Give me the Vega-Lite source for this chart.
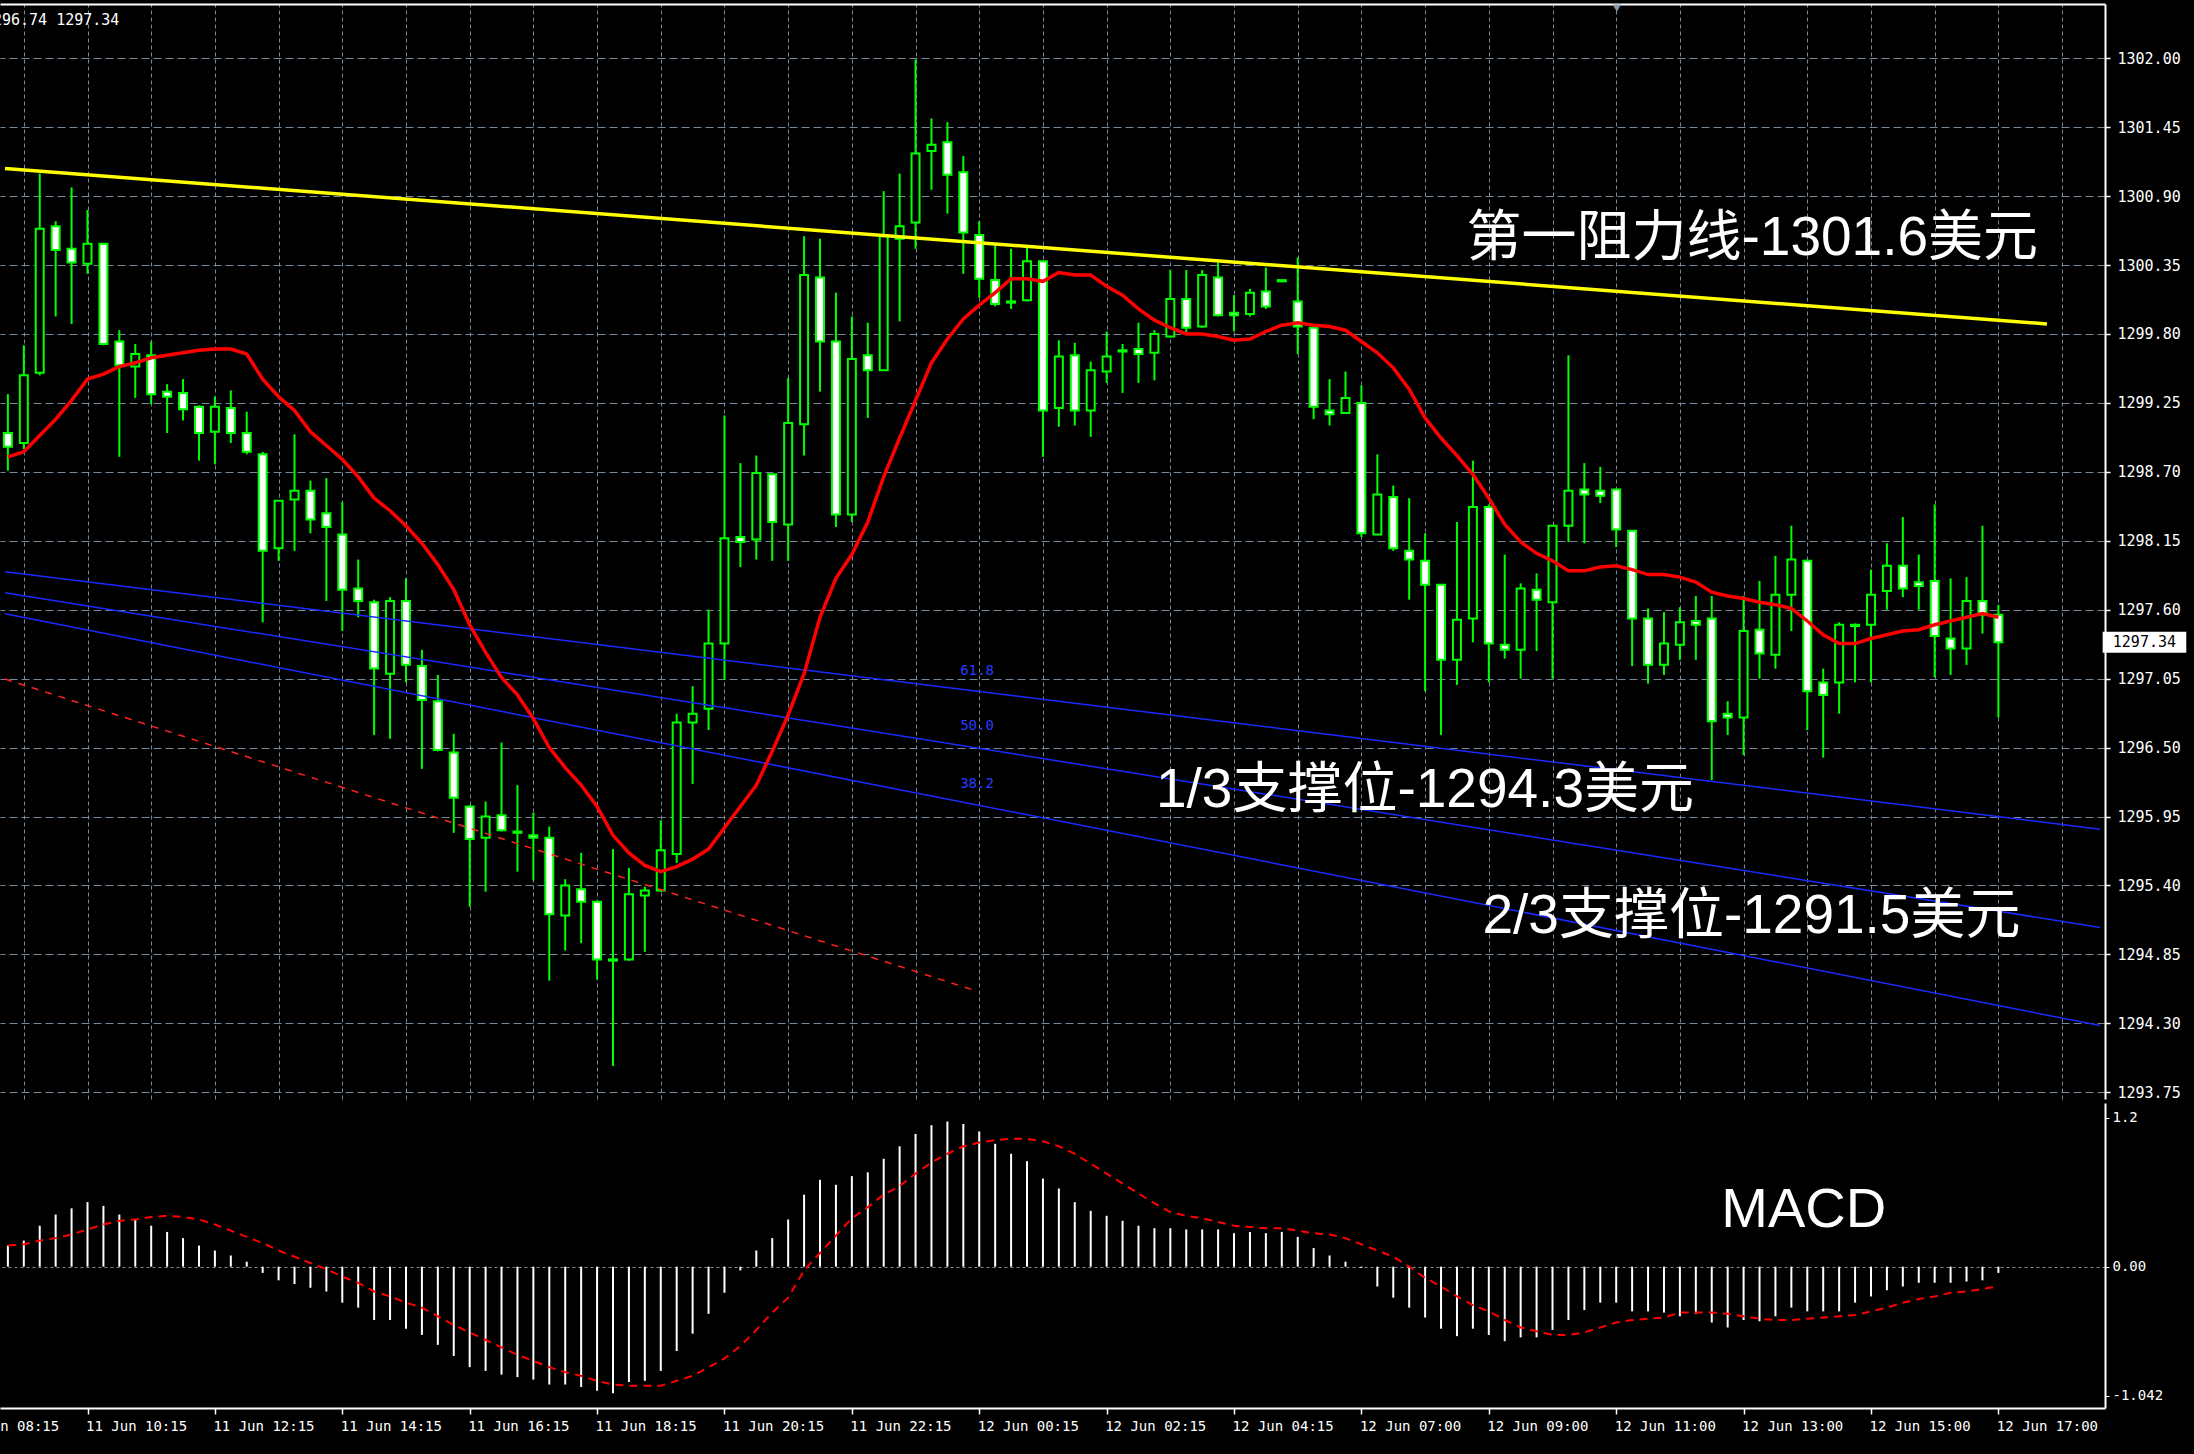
{
  "$schema": "https://vega.github.io/schema/vega-lite/v6.json",
  "width": 2105,
  "height": 1404,
  "autosize": {"type": "none"},
  "padding": {"left": 0, "top": 4, "right": 89, "bottom": 46},
  "background": "#000000",
  "config": {
    "view": {"stroke": null},
    "font": "Liberation Sans",
    "axis": {"domainColor": "#ffffff", "tickColor": "#ffffff", "labelColor": "#ffffff", "gridColor": "#778899"}
  },
  "datasets": {
    "candles": [
      {"k":-1,"o":1299.01,"h":1299.32,"l":1298.71,"c":1298.90,"ma":1298.82},
      {"k":0,"o":1298.93,"h":1299.71,"l":1298.88,"c":1299.47,"ma":1298.86},
      {"k":1,"o":1299.49,"h":1301.08,"l":1299.47,"c":1300.64,"ma":1298.99},
      {"k":2,"o":1300.66,"h":1300.70,"l":1299.94,"c":1300.47,"ma":1299.12},
      {"k":3,"o":1300.48,"h":1300.97,"l":1299.88,"c":1300.37,"ma":1299.27},
      {"k":4,"o":1300.36,"h":1300.79,"l":1300.28,"c":1300.52,"ma":1299.44},
      {"k":5,"o":1300.52,"h":1300.52,"l":1299.71,"c":1299.72,"ma":1299.48},
      {"k":6,"o":1299.74,"h":1299.83,"l":1298.82,"c":1299.55,"ma":1299.54},
      {"k":7,"o":1299.54,"h":1299.72,"l":1299.29,"c":1299.64,"ma":1299.57},
      {"k":8,"o":1299.63,"h":1299.74,"l":1299.24,"c":1299.32,"ma":1299.61},
      {"k":9,"o":1299.34,"h":1299.40,"l":1299.01,"c":1299.30,"ma":1299.63},
      {"k":10,"o":1299.33,"h":1299.44,"l":1299.11,"c":1299.20,"ma":1299.65},
      {"k":11,"o":1299.22,"h":1299.23,"l":1298.79,"c":1299.01,"ma":1299.67},
      {"k":12,"o":1299.02,"h":1299.30,"l":1298.76,"c":1299.22,"ma":1299.68},
      {"k":13,"o":1299.21,"h":1299.35,"l":1298.93,"c":1299.01,"ma":1299.68},
      {"k":14,"o":1299.01,"h":1299.18,"l":1298.84,"c":1298.86,"ma":1299.64},
      {"k":15,"o":1298.84,"h":1298.86,"l":1297.50,"c":1298.07,"ma":1299.44},
      {"k":16,"o":1298.09,"h":1298.47,"l":1297.99,"c":1298.47,"ma":1299.30},
      {"k":17,"o":1298.48,"h":1299.00,"l":1298.07,"c":1298.55,"ma":1299.19},
      {"k":18,"o":1298.55,"h":1298.63,"l":1298.21,"c":1298.32,"ma":1299.02},
      {"k":19,"o":1298.37,"h":1298.65,"l":1297.67,"c":1298.26,"ma":1298.91},
      {"k":20,"o":1298.20,"h":1298.46,"l":1297.43,"c":1297.76,"ma":1298.80},
      {"k":21,"o":1297.77,"h":1298.00,"l":1297.54,"c":1297.67,"ma":1298.66},
      {"k":22,"o":1297.66,"h":1297.68,"l":1296.60,"c":1297.13,"ma":1298.49},
      {"k":23,"o":1297.09,"h":1297.70,"l":1296.57,"c":1297.67,"ma":1298.39},
      {"k":24,"o":1297.67,"h":1297.85,"l":1297.02,"c":1297.16,"ma":1298.27},
      {"k":25,"o":1297.15,"h":1297.28,"l":1296.33,"c":1296.88,"ma":1298.13},
      {"k":26,"o":1296.87,"h":1297.08,"l":1296.47,"c":1296.48,"ma":1297.96},
      {"k":27,"o":1296.46,"h":1296.61,"l":1295.82,"c":1296.10,"ma":1297.76},
      {"k":28,"o":1296.03,"h":1296.04,"l":1295.23,"c":1295.77,"ma":1297.48},
      {"k":29,"o":1295.78,"h":1296.07,"l":1295.35,"c":1295.95,"ma":1297.26},
      {"k":30,"o":1295.96,"h":1296.54,"l":1295.83,"c":1295.84,"ma":1297.06},
      {"k":31,"o":1295.83,"h":1296.20,"l":1295.51,"c":1295.82,"ma":1296.92},
      {"k":32,"o":1295.80,"h":1295.98,"l":1295.44,"c":1295.78,"ma":1296.73},
      {"k":33,"o":1295.78,"h":1295.87,"l":1294.64,"c":1295.17,"ma":1296.50},
      {"k":34,"o":1295.16,"h":1295.45,"l":1294.88,"c":1295.40,"ma":1296.34},
      {"k":35,"o":1295.37,"h":1295.66,"l":1294.94,"c":1295.27,"ma":1296.20},
      {"k":36,"o":1295.27,"h":1295.28,"l":1294.65,"c":1294.81,"ma":1296.03},
      {"k":37,"o":1294.81,"h":1295.69,"l":1293.96,"c":1294.80,"ma":1295.80},
      {"k":38,"o":1294.81,"h":1295.54,"l":1294.80,"c":1295.33,"ma":1295.66},
      {"k":39,"o":1295.32,"h":1295.39,"l":1294.87,"c":1295.36,"ma":1295.56},
      {"k":40,"o":1295.36,"h":1295.92,"l":1295.35,"c":1295.68,"ma":1295.51},
      {"k":41,"o":1295.65,"h":1296.77,"l":1295.58,"c":1296.70,"ma":1295.55},
      {"k":42,"o":1296.70,"h":1296.99,"l":1296.21,"c":1296.77,"ma":1295.61},
      {"k":43,"o":1296.81,"h":1297.60,"l":1296.64,"c":1297.33,"ma":1295.69},
      {"k":44,"o":1297.33,"h":1299.15,"l":1297.04,"c":1298.17,"ma":1295.86},
      {"k":45,"o":1298.18,"h":1298.77,"l":1297.94,"c":1298.14,"ma":1296.03},
      {"k":46,"o":1298.16,"h":1298.83,"l":1298.00,"c":1298.69,"ma":1296.20},
      {"k":47,"o":1298.68,"h":1298.68,"l":1297.99,"c":1298.30,"ma":1296.47},
      {"k":48,"o":1298.28,"h":1299.45,"l":1297.99,"c":1299.09,"ma":1296.76},
      {"k":49,"o":1299.08,"h":1300.58,"l":1298.83,"c":1300.27,"ma":1297.09},
      {"k":50,"o":1300.25,"h":1300.56,"l":1299.34,"c":1299.74,"ma":1297.54},
      {"k":51,"o":1299.74,"h":1300.13,"l":1298.26,"c":1298.36,"ma":1297.85},
      {"k":52,"o":1298.36,"h":1299.94,"l":1298.30,"c":1299.60,"ma":1298.04},
      {"k":53,"o":1299.63,"h":1299.89,"l":1299.13,"c":1299.51,"ma":1298.30},
      {"k":54,"o":1299.51,"h":1300.94,"l":1299.51,"c":1300.58,"ma":1298.66},
      {"k":55,"o":1300.56,"h":1301.08,"l":1299.90,"c":1300.66,"ma":1298.97},
      {"k":56,"o":1300.69,"h":1301.99,"l":1300.48,"c":1301.24,"ma":1299.27},
      {"k":57,"o":1301.26,"h":1301.52,"l":1300.95,"c":1301.31,"ma":1299.57},
      {"k":58,"o":1301.33,"h":1301.49,"l":1300.76,"c":1301.07,"ma":1299.76},
      {"k":59,"o":1301.09,"h":1301.22,"l":1300.28,"c":1300.61,"ma":1299.92},
      {"k":60,"o":1300.59,"h":1300.70,"l":1300.09,"c":1300.24,"ma":1300.03},
      {"k":61,"o":1300.23,"h":1300.51,"l":1300.02,"c":1300.04,"ma":1300.13},
      {"k":62,"o":1300.06,"h":1300.48,"l":1300.00,"c":1300.05,"ma":1300.24},
      {"k":63,"o":1300.07,"h":1300.51,"l":1300.06,"c":1300.38,"ma":1300.24},
      {"k":64,"o":1300.38,"h":1300.38,"l":1298.82,"c":1299.19,"ma":1300.22},
      {"k":65,"o":1299.21,"h":1299.75,"l":1299.06,"c":1299.62,"ma":1300.29},
      {"k":66,"o":1299.63,"h":1299.73,"l":1299.07,"c":1299.19,"ma":1300.27},
      {"k":67,"o":1299.19,"h":1299.58,"l":1298.98,"c":1299.51,"ma":1300.27},
      {"k":68,"o":1299.50,"h":1299.82,"l":1299.41,"c":1299.62,"ma":1300.18},
      {"k":69,"o":1299.67,"h":1299.72,"l":1299.33,"c":1299.66,"ma":1300.11},
      {"k":70,"o":1299.68,"h":1299.89,"l":1299.41,"c":1299.64,"ma":1300.00},
      {"k":71,"o":1299.65,"h":1299.83,"l":1299.43,"c":1299.80,"ma":1299.91},
      {"k":72,"o":1299.78,"h":1300.31,"l":1299.77,"c":1300.08,"ma":1299.85},
      {"k":73,"o":1300.08,"h":1300.31,"l":1299.81,"c":1299.85,"ma":1299.80},
      {"k":74,"o":1299.86,"h":1300.31,"l":1299.85,"c":1300.27,"ma":1299.80},
      {"k":75,"o":1300.25,"h":1300.37,"l":1299.94,"c":1299.95,"ma":1299.78},
      {"k":76,"o":1299.97,"h":1300.11,"l":1299.82,"c":1299.95,"ma":1299.75},
      {"k":77,"o":1299.96,"h":1300.16,"l":1299.94,"c":1300.13,"ma":1299.76},
      {"k":78,"o":1300.14,"h":1300.33,"l":1300.00,"c":1300.02,"ma":1299.82},
      {"k":79,"o":1300.23,"h":1300.23,"l":1300.22,"c":1300.22,"ma":1299.87},
      {"k":80,"o":1300.06,"h":1300.41,"l":1299.64,"c":1299.86,"ma":1299.89},
      {"k":81,"o":1299.85,"h":1299.86,"l":1299.12,"c":1299.22,"ma":1299.87},
      {"k":82,"o":1299.19,"h":1299.44,"l":1299.07,"c":1299.16,"ma":1299.86},
      {"k":83,"o":1299.17,"h":1299.50,"l":1299.17,"c":1299.29,"ma":1299.83},
      {"k":84,"o":1299.25,"h":1299.39,"l":1298.18,"c":1298.21,"ma":1299.74},
      {"k":85,"o":1298.20,"h":1298.84,"l":1298.20,"c":1298.52,"ma":1299.65},
      {"k":86,"o":1298.50,"h":1298.59,"l":1298.07,"c":1298.09,"ma":1299.53},
      {"k":87,"o":1298.07,"h":1298.49,"l":1297.68,"c":1298.00,"ma":1299.36},
      {"k":88,"o":1297.99,"h":1298.21,"l":1296.95,"c":1297.80,"ma":1299.13},
      {"k":89,"o":1297.80,"h":1297.80,"l":1296.60,"c":1297.20,"ma":1298.97},
      {"k":90,"o":1297.20,"h":1298.30,"l":1297.00,"c":1297.52,"ma":1298.83},
      {"k":91,"o":1297.53,"h":1298.79,"l":1297.34,"c":1298.42,"ma":1298.68},
      {"k":92,"o":1298.42,"h":1298.44,"l":1297.02,"c":1297.33,"ma":1298.49},
      {"k":93,"o":1297.32,"h":1298.04,"l":1297.21,"c":1297.28,"ma":1298.28},
      {"k":94,"o":1297.28,"h":1297.81,"l":1297.05,"c":1297.77,"ma":1298.14},
      {"k":95,"o":1297.76,"h":1297.89,"l":1297.27,"c":1297.68,"ma":1298.05},
      {"k":96,"o":1297.66,"h":1298.27,"l":1297.05,"c":1298.27,"ma":1297.99},
      {"k":97,"o":1298.27,"h":1299.63,"l":1298.14,"c":1298.55,"ma":1297.91},
      {"k":98,"o":1298.56,"h":1298.77,"l":1298.13,"c":1298.52,"ma":1297.91},
      {"k":99,"o":1298.55,"h":1298.74,"l":1298.45,"c":1298.51,"ma":1297.94},
      {"k":100,"o":1298.56,"h":1298.56,"l":1298.10,"c":1298.24,"ma":1297.95},
      {"k":101,"o":1298.23,"h":1298.23,"l":1297.15,"c":1297.53,"ma":1297.92},
      {"k":102,"o":1297.53,"h":1297.61,"l":1297.01,"c":1297.16,"ma":1297.88},
      {"k":103,"o":1297.16,"h":1297.58,"l":1297.08,"c":1297.33,"ma":1297.88},
      {"k":104,"o":1297.32,"h":1297.62,"l":1297.20,"c":1297.50,"ma":1297.86},
      {"k":105,"o":1297.51,"h":1297.71,"l":1297.20,"c":1297.48,"ma":1297.82},
      {"k":106,"o":1297.53,"h":1297.71,"l":1296.24,"c":1296.71,"ma":1297.74},
      {"k":107,"o":1296.77,"h":1296.87,"l":1296.60,"c":1296.74,"ma":1297.71},
      {"k":108,"o":1296.74,"h":1297.71,"l":1296.44,"c":1297.43,"ma":1297.69},
      {"k":109,"o":1297.44,"h":1297.83,"l":1297.05,"c":1297.25,"ma":1297.66},
      {"k":110,"o":1297.24,"h":1298.03,"l":1297.13,"c":1297.72,"ma":1297.64},
      {"k":111,"o":1297.72,"h":1298.27,"l":1297.43,"c":1298.00,"ma":1297.61},
      {"k":112,"o":1297.99,"h":1298.00,"l":1296.64,"c":1296.95,"ma":1297.51},
      {"k":113,"o":1297.02,"h":1297.13,"l":1296.42,"c":1296.92,"ma":1297.40},
      {"k":114,"o":1297.02,"h":1297.50,"l":1296.77,"c":1297.48,"ma":1297.33},
      {"k":115,"o":1297.48,"h":1297.49,"l":1297.02,"c":1297.47,"ma":1297.33},
      {"k":116,"o":1297.48,"h":1297.92,"l":1297.02,"c":1297.72,"ma":1297.37},
      {"k":117,"o":1297.75,"h":1298.13,"l":1297.60,"c":1297.95,"ma":1297.40},
      {"k":118,"o":1297.95,"h":1298.34,"l":1297.70,"c":1297.77,"ma":1297.43},
      {"k":119,"o":1297.82,"h":1298.04,"l":1297.60,"c":1297.79,"ma":1297.44},
      {"k":120,"o":1297.83,"h":1298.44,"l":1297.06,"c":1297.39,"ma":1297.48},
      {"k":121,"o":1297.37,"h":1297.85,"l":1297.08,"c":1297.29,"ma":1297.51},
      {"k":122,"o":1297.29,"h":1297.86,"l":1297.16,"c":1297.67,"ma":1297.54},
      {"k":123,"o":1297.67,"h":1298.27,"l":1297.41,"c":1297.56,"ma":1297.57},
      {"k":124,"o":1297.56,"h":1297.64,"l":1296.74,"c":1297.34,"ma":1297.54}
    ],
    "macd": [
      {"k":-1,"hist":0.17,"sig":0.17},{"k":0,"hist":0.21,"sig":0.18},{"k":1,"hist":0.33,"sig":0.21},{"k":2,"hist":0.42,"sig":0.23},
      {"k":3,"hist":0.47,"sig":0.26},{"k":4,"hist":0.52,"sig":0.30},{"k":5,"hist":0.49,"sig":0.34},{"k":6,"hist":0.42,"sig":0.37},
      {"k":7,"hist":0.38,"sig":0.38},{"k":8,"hist":0.33,"sig":0.40},{"k":9,"hist":0.28,"sig":0.41},{"k":10,"hist":0.23,"sig":0.40},
      {"k":11,"hist":0.17,"sig":0.38},{"k":12,"hist":0.13,"sig":0.34},{"k":13,"hist":0.09,"sig":0.29},{"k":14,"hist":0.04,"sig":0.24},
      {"k":15,"hist":-0.05,"sig":0.19},{"k":16,"hist":-0.11,"sig":0.13},{"k":17,"hist":-0.14,"sig":0.08},{"k":18,"hist":-0.17,"sig":0.03},
      {"k":19,"hist":-0.20,"sig":-0.02},{"k":20,"hist":-0.29,"sig":-0.08},{"k":21,"hist":-0.33,"sig":-0.13},{"k":22,"hist":-0.43,"sig":-0.20},
      {"k":23,"hist":-0.43,"sig":-0.24},{"k":24,"hist":-0.50,"sig":-0.29},{"k":25,"hist":-0.55,"sig":-0.33},{"k":26,"hist":-0.63,"sig":-0.40},
      {"k":27,"hist":-0.72,"sig":-0.47},{"k":28,"hist":-0.81,"sig":-0.53},{"k":29,"hist":-0.84,"sig":-0.59},{"k":30,"hist":-0.87,"sig":-0.65},
      {"k":31,"hist":-0.89,"sig":-0.71},{"k":32,"hist":-0.91,"sig":-0.76},{"k":33,"hist":-0.95,"sig":-0.81},{"k":34,"hist":-0.95,"sig":-0.85},
      {"k":35,"hist":-0.97,"sig":-0.88},{"k":36,"hist":-1.00,"sig":-0.92},{"k":37,"hist":-1.02,"sig":-0.95},{"k":38,"hist":-0.93,"sig":-0.96},
      {"k":39,"hist":-0.92,"sig":-0.96},{"k":40,"hist":-0.84,"sig":-0.96},{"k":41,"hist":-0.68,"sig":-0.92},{"k":42,"hist":-0.54,"sig":-0.88},
      {"k":43,"hist":-0.38,"sig":-0.81},{"k":44,"hist":-0.21,"sig":-0.74},{"k":45,"hist":-0.03,"sig":-0.64},{"k":46,"hist":0.13,"sig":-0.51},
      {"k":47,"hist":0.23,"sig":-0.37},{"k":48,"hist":0.38,"sig":-0.25},{"k":49,"hist":0.58,"sig":-0.03},{"k":50,"hist":0.70,"sig":0.11},
      {"k":51,"hist":0.66,"sig":0.25},{"k":52,"hist":0.73,"sig":0.39},{"k":53,"hist":0.76,"sig":0.48},{"k":54,"hist":0.87,"sig":0.58},
      {"k":55,"hist":0.97,"sig":0.65},{"k":56,"hist":1.07,"sig":0.75},{"k":57,"hist":1.14,"sig":0.84},{"k":58,"hist":1.17,"sig":0.91},
      {"k":59,"hist":1.15,"sig":0.97},{"k":60,"hist":1.09,"sig":1.00},{"k":61,"hist":0.99,"sig":1.02},{"k":62,"hist":0.91,"sig":1.03},
      {"k":63,"hist":0.85,"sig":1.03},{"k":64,"hist":0.71,"sig":1.01},{"k":65,"hist":0.63,"sig":0.97},{"k":66,"hist":0.52,"sig":0.91},
      {"k":67,"hist":0.45,"sig":0.83},{"k":68,"hist":0.41,"sig":0.75},{"k":69,"hist":0.37,"sig":0.67},{"k":70,"hist":0.33,"sig":0.59},
      {"k":71,"hist":0.31,"sig":0.51},{"k":72,"hist":0.31,"sig":0.44},{"k":73,"hist":0.30,"sig":0.41},{"k":74,"hist":0.30,"sig":0.39},
      {"k":75,"hist":0.30,"sig":0.36},{"k":76,"hist":0.27,"sig":0.33},{"k":77,"hist":0.28,"sig":0.32},{"k":78,"hist":0.27,"sig":0.31},
      {"k":79,"hist":0.28,"sig":0.31},{"k":80,"hist":0.24,"sig":0.29},{"k":81,"hist":0.15,"sig":0.27},{"k":82,"hist":0.09,"sig":0.26},
      {"k":83,"hist":0.04,"sig":0.23},{"k":84,"hist":-0.01,"sig":0.18},{"k":85,"hist":-0.16,"sig":0.13},{"k":86,"hist":-0.25,"sig":0.08},
      {"k":87,"hist":-0.33,"sig":0.00},{"k":88,"hist":-0.41,"sig":-0.09},{"k":89,"hist":-0.50,"sig":-0.16},{"k":90,"hist":-0.56,"sig":-0.24},
      {"k":91,"hist":-0.50,"sig":-0.31},{"k":92,"hist":-0.55,"sig":-0.36},{"k":93,"hist":-0.60,"sig":-0.43},{"k":94,"hist":-0.57,"sig":-0.49},
      {"k":95,"hist":-0.57,"sig":-0.52},{"k":96,"hist":-0.51,"sig":-0.55},{"k":97,"hist":-0.43,"sig":-0.55},{"k":98,"hist":-0.35,"sig":-0.53},
      {"k":99,"hist":-0.29,"sig":-0.49},{"k":100,"hist":-0.29,"sig":-0.45},{"k":101,"hist":-0.36,"sig":-0.43},{"k":102,"hist":-0.36,"sig":-0.42},
      {"k":103,"hist":-0.37,"sig":-0.41},{"k":104,"hist":-0.40,"sig":-0.37},{"k":105,"hist":-0.38,"sig":-0.37},{"k":106,"hist":-0.45,"sig":-0.37},
      {"k":107,"hist":-0.49,"sig":-0.38},{"k":108,"hist":-0.43,"sig":-0.40},{"k":109,"hist":-0.44,"sig":-0.42},{"k":110,"hist":-0.40,"sig":-0.43},
      {"k":111,"hist":-0.33,"sig":-0.43},{"k":112,"hist":-0.36,"sig":-0.42},{"k":113,"hist":-0.36,"sig":-0.41},{"k":114,"hist":-0.36,"sig":-0.40},
      {"k":115,"hist":-0.29,"sig":-0.39},{"k":116,"hist":-0.24,"sig":-0.36},{"k":117,"hist":-0.19,"sig":-0.33},{"k":118,"hist":-0.16,"sig":-0.29},
      {"k":119,"hist":-0.13,"sig":-0.26},{"k":120,"hist":-0.13,"sig":-0.24},{"k":121,"hist":-0.13,"sig":-0.21},{"k":122,"hist":-0.12,"sig":-0.20},
      {"k":123,"hist":-0.11,"sig":-0.18},{"k":124,"hist":-0.05,"sig":-0.16}
    ],
    "resistance": [{"k":-1.181,"p":1301.12},{"k":127.05,"p":1299.88}],
    "fib": [
      {"lvl":"61.8","k":-1.181,"p":1297.903},{"lvl":"61.8","k":130.382,"p":1295.849},
      {"lvl":"50.0","k":-1.181,"p":1297.735},{"lvl":"50.0","k":130.382,"p":1295.065},
      {"lvl":"38.2","k":-1.181,"p":1297.567},{"lvl":"38.2","k":130.382,"p":1294.282}
    ],
    "dash": [{"k":-1.181,"p":1297.047},{"k":59.86,"p":1294.556}],
    "fiblabels": [
      {"k":59.86,"p":1297.108,"t":"61.8"},
      {"k":59.86,"p":1296.672,"t":"50.0"},
      {"k":59.86,"p":1296.207,"t":"38.2"}
    ],
    "notes": [
      {"k":90.6,"p":1300.566,"t":"第一阻力线-1301.6美元"},
      {"k":71.1,"p":1296.165,"t":"1/3支撑位-1294.3美元"},
      {"k":91.6,"p":1295.157,"t":"2/3支撑位-1291.5美元"}
    ]
  },
  "layer": [
    {
      "layer": [
        {
          "data": {"name": "candles"},
          "mark": {"type": "rule", "color": "#00ff00", "strokeWidth": 2},
          "encoding": {
            "x": {"field": "k", "type": "quantitative",
              "scale": {"domain": [-1.181, 130.382], "nice": false, "zero": false},
              "axis": {"orient": "top", "values": [0,4,8,12,16,20,24,28,32,36,40,44,48,52,56,60,64,68,72,76,80,84,88,92,96,100,104,108,112,116,120,124,128],
                "grid": true, "gridColor": "#778899", "gridDash": [4,3], "gridWidth": 1,
                "labels": false, "ticks": false, "domain": true, "domainColor": "#ffffff", "domainWidth": 2, "title": null}},
            "y": {"field": "l", "type": "quantitative",
              "scale": {"domain": [1293.696, 1302.433], "range": [1095, 0], "nice": false, "zero": false},
              "axis": {"orient": "right", "values": [1302.00,1301.45,1300.90,1300.35,1299.80,1299.25,1298.70,1298.15,1297.60,1297.05,1296.50,1295.95,1295.40,1294.85,1294.30,1293.75],
                "format": ".2f", "grid": true, "gridColor": "#778899", "gridDash": [8,4], "gridWidth": 1,
                "domainColor": "#ffffff", "domainWidth": 2, "tickColor": "#ffffff", "tickSize": 5, "tickWidth": 1.5,
                "labelColor": "#ffffff", "labelFont": "DejaVu Sans Mono", "labelFontSize": 15, "labelPadding": 7, "title": null}},
            "y2": {"field": "h"}
          }
        },
        {
          "data": {"name": "candles"},
          "mark": {"type": "bar", "size": 8, "stroke": "#00ff00", "strokeWidth": 2},
          "encoding": {
            "x": {"field": "k", "type": "quantitative", "title": null},
            "y": {"field": "o", "type": "quantitative", "title": null},
            "y2": {"field": "c"},
            "fill": {"condition": {"test": "datum.c < datum.o", "value": "#ffffff"}, "value": "#000000"}
          }
        },
        {
          "mark": {"type": "rule", "color": "#a3abb5", "strokeWidth": 1},
          "encoding": {"y": {"datum": 1297.34, "type": "quantitative"}}
        },
        {
          "data": {"name": "fib"},
          "mark": {"type": "line", "color": "#1a2aff", "strokeWidth": 1.5},
          "encoding": {
            "x": {"field": "k", "type": "quantitative", "title": null},
            "y": {"field": "p", "type": "quantitative", "title": null},
            "detail": {"field": "lvl"}
          }
        },
        {
          "data": {"name": "dash"},
          "mark": {"type": "line", "color": "#ff2020", "strokeWidth": 1.5, "strokeDash": [7, 7]},
          "encoding": {
            "x": {"field": "k", "type": "quantitative", "title": null},
            "y": {"field": "p", "type": "quantitative", "title": null}
          }
        },
        {
          "data": {"name": "resistance"},
          "mark": {"type": "line", "color": "#ffff00", "strokeWidth": 3.5},
          "encoding": {
            "x": {"field": "k", "type": "quantitative", "title": null},
            "y": {"field": "p", "type": "quantitative", "title": null}
          }
        },
        {
          "data": {"name": "candles"},
          "mark": {"type": "line", "color": "#ff0000", "strokeWidth": 3.5},
          "encoding": {
            "x": {"field": "k", "type": "quantitative", "title": null},
            "y": {"field": "ma", "type": "quantitative", "title": null}
          }
        },
        {
          "mark": {"type": "rule", "color": "#ffffff", "strokeWidth": 2},
          "encoding": {"y": {"datum": 1293.696, "type": "quantitative"}}
        },
        {
          "data": {"name": "fiblabels"},
          "mark": {"type": "text", "color": "#2a3cff", "font": "DejaVu Sans Mono", "fontSize": 14, "align": "center", "baseline": "middle"},
          "encoding": {
            "x": {"field": "k", "type": "quantitative", "title": null},
            "y": {"field": "p", "type": "quantitative", "title": null},
            "text": {"field": "t"}
          }
        },
        {
          "data": {"name": "notes"},
          "mark": {"type": "text", "color": "#ffffff", "font": "Liberation Sans, Noto Sans CJK SC", "fontSize": 55, "align": "left", "baseline": "middle"},
          "encoding": {
            "x": {"field": "k", "type": "quantitative", "title": null},
            "y": {"field": "p", "type": "quantitative", "title": null},
            "text": {"field": "t"}
          }
        },
        {
          "data": {"values": [{"t": "1296.74 1297.34"}]},
          "mark": {"type": "text", "color": "#ffffff", "font": "DejaVu Sans Mono", "fontSize": 15, "align": "right", "baseline": "middle"},
          "encoding": {
            "x": {"datum": 6.0, "type": "quantitative"},
            "y": {"datum": 1302.303, "type": "quantitative"},
            "text": {"field": "t"}
          }
        },
        {
          "data": {"values": [{}]},
          "mark": {"type": "rect", "color": "#ffffff"},
          "encoding": {
            "x": {"datum": 130.55, "type": "quantitative"},
            "x2": {"datum": 135.8},
            "y": {"datum": 1297.424, "type": "quantitative"},
            "y2": {"datum": 1297.256}
          }
        },
        {
          "data": {"values": [{"t": "1297.34"}]},
          "mark": {"type": "text", "color": "#000000", "font": "DejaVu Sans Mono", "fontSize": 15, "align": "center", "baseline": "middle"},
          "encoding": {
            "x": {"datum": 133.17, "type": "quantitative"},
            "y": {"datum": 1297.34, "type": "quantitative"},
            "text": {"field": "t"}
          }
        },
        {
          "data": {"values": [{}]},
          "mark": {"type": "point", "shape": "triangle-down", "filled": true, "color": "#8899aa", "size": 70, "opacity": 1},
          "encoding": {
            "x": {"datum": 100.04, "type": "quantitative"},
            "y": {"datum": 1302.40, "type": "quantitative"}
          }
        }
      ]
    },
    {
      "layer": [
        {
          "data": {"name": "macd"},
          "mark": {"type": "rule", "color": "#ffffff", "strokeWidth": 2},
          "encoding": {
            "x": {"field": "k", "type": "quantitative",
              "axis": {"orient": "bottom", "values": [4,12,20,28,36,44,52,60,68,76,84,92,100,108,116,124],
                "labelExpr": "['11 Jun 08:15','11 Jun 10:15','11 Jun 12:15','11 Jun 14:15','11 Jun 16:15','11 Jun 18:15','11 Jun 20:15','11 Jun 22:15','12 Jun 00:15','12 Jun 02:15','12 Jun 04:15','12 Jun 07:00','12 Jun 09:00','12 Jun 11:00','12 Jun 13:00','12 Jun 15:00','12 Jun 17:00'][(datum.value + 4) / 8]",
                "grid": false, "ticks": true, "tickSize": 6, "tickColor": "#ffffff", "tickWidth": 1.5,
                "domainColor": "#ffffff", "domainWidth": 2,
                "labelAlign": "left", "labelBaseline": "top", "labelPadding": 5, "labelOffset": -2, "labelFlush": false, "labelOverlap": false, "labelBound": false,
                "labelColor": "#ffffff", "labelFont": "DejaVu Sans Mono", "labelFontSize": 14, "title": null}},
            "y": {"field": "hist", "type": "quantitative",
              "scale": {"domain": [-1.139, 1.319], "range": [1404, 1099], "nice": false, "zero": false},
              "axis": {"orient": "right", "values": [1.2, 0, -1.042],
                "labelExpr": "datum.value === 0 ? '0.00' : (datum.value > 1 ? '1.2' : '-1.042')",
                "grid": true, "gridColor": "#778899", "gridDash": [3,3],
                "gridOpacity": {"condition": {"test": "datum.value === 0", "value": 1}, "value": 0},
                "domainColor": "#ffffff", "domainWidth": 2, "tickSize": 4, "tickColor": "#ffffff",
                "labelPadding": 3, "labelColor": "#ffffff", "labelFont": "DejaVu Sans Mono", "labelFontSize": 14, "title": null}},
            "y2": {"datum": 0}
          }
        },
        {
          "data": {"name": "macd"},
          "mark": {"type": "line", "color": "#ff0000", "strokeWidth": 2, "strokeDash": [8, 6]},
          "encoding": {
            "x": {"field": "k", "type": "quantitative", "title": null},
            "y": {"field": "sig", "type": "quantitative", "title": null}
          }
        },
        {
          "mark": {"type": "rule", "color": "#ffffff", "strokeWidth": 2},
          "encoding": {"y": {"datum": 1.319, "type": "quantitative"}}
        },
        {
          "data": {"values": [{"t": "11 Jun 08:15"}]},
          "mark": {"type": "text", "color": "#ffffff", "font": "DejaVu Sans Mono", "fontSize": 14, "align": "left", "baseline": "top"},
          "encoding": {
            "x": {"datum": -4.13, "type": "quantitative"},
            "y": {"datum": -1.233, "type": "quantitative"},
            "text": {"field": "t"}
          }
        },
        {
          "data": {"values": [{"t": "MACD"}]},
          "mark": {"type": "text", "color": "#ffffff", "font": "Liberation Sans", "fontSize": 56, "align": "left", "baseline": "middle"},
          "encoding": {
            "x": {"datum": 106.6, "type": "quantitative"},
            "y": {"datum": 0.46, "type": "quantitative"},
            "text": {"field": "t"}
          }
        }
      ]
    }
  ],
  "resolve": {"scale": {"y": "independent"}, "axis": {"x": "independent", "y": "independent"}}
}
